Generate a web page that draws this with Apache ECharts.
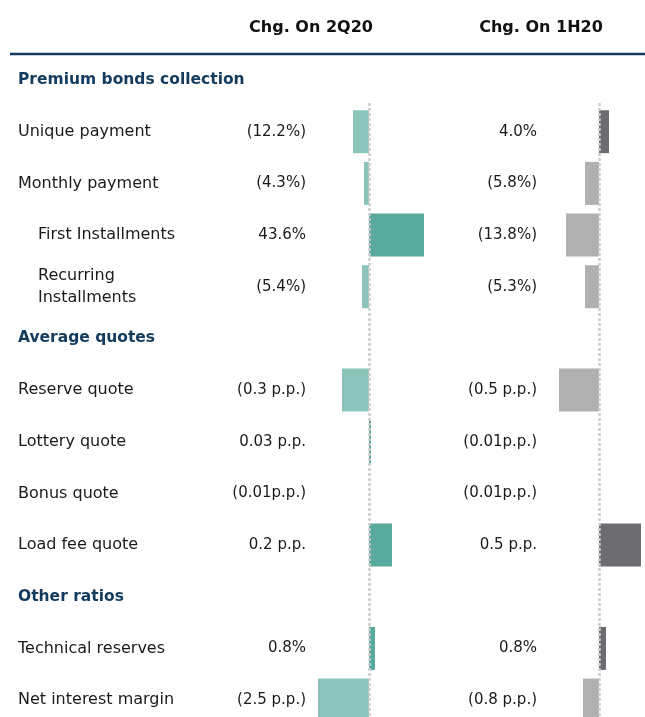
<!DOCTYPE html>
<html>
<head>
<meta charset="utf-8">
<script src="https://cdn.jsdelivr.net/npm/echarts@6/dist/echarts.min.js"></script>
<style>
  html, body { margin: 0; padding: 0; background: #fff; overflow: hidden; }
  /* a bit taller than the window so the last row keeps its full height */
  #chart { width: 645px; height: 740px; }
</style>
</head>
<body>
<div id="chart"></div>
<script>
// rows of the table, top to bottom (section headers have no values)
const rows = [
  'Premium bonds collection',
  'Unique payment',
  'Monthly payment',
  'First Installments',
  'Recurring\nInstallments',
  'Average quotes',
  'Reserve quote',
  'Lottery quote',
  'Bonus quote',
  'Load fee quote',
  'Other ratios',
  'Technical reserves',
  'Net interest margin'
];
const sections = ['Premium bonds collection', 'Average quotes', 'Other ratios'];
const subRows = ['First Installments', 'Recurring\nInstallments'];

const columnTitles = ['Chg. On 2Q20', 'Chg. On 1H20'];

// value texts as printed
const labels2Q20 = ['', '(12.2%)', '(4.3%)', '43.6%', '(5.4%)', '', '(0.3 p.p.)', '0.03 p.p.', '(0.01p.p.)', '0.2 p.p.', '', '0.8%', '(2.5 p.p.)'];
const labels1H20 = ['', '4.0%', '(5.8%)', '(13.8%)', '(5.3%)', '', '(0.5 p.p.)', '(0.01p.p.)', '(0.01p.p.)', '0.5 p.p.', '', '0.8%', '(0.8 p.p.)'];

// bar sizes as drawn (relative index)
const bars2Q20 = [null, -16, -5, 55, -7, null, -27, 2, 0, 23, null, 6, -51];
const bars1H20 = [null, 10, -14, -33, -14, null, -40, 0, 0, 42, null, 7, -16];

const NAVY = '#133b5e';
const BODY_FONT = 'DejaVu Sans';

const chart = echarts.init(document.getElementById('chart'), null, { renderer: 'canvas' });

const rowTop = 54.2;
const rowH = 51.67;

function rowFormatter(v) {
  if (sections.indexOf(v) >= 0) return '{sec|' + v + '}';
  if (subRows.indexOf(v) >= 0) return v.split('\n').map(s => '{sub|' + s + '}').join('\n');
  return '{item|' + v + '}';
}

function catAxis(gridIndex, data, extra) {
  return Object.assign({
    type: 'category',
    gridIndex,
    data,
    inverse: true,
    position: 'left',
    axisLine: { show: false },
    axisTick: { show: false },
    splitLine: { show: false }
  }, extra);
}

function barSeries(idx, data, negColor, posColor) {
  return {
    type: 'bar',
    xAxisIndex: idx,
    yAxisIndex: idx === 0 ? 0 : 2,
    data,
    barWidth: 43,
    silent: true,
    itemStyle: {
      color: p => (p.value < 0 ? negColor : posColor)
    },
    markLine: {
      silent: true,
      symbol: 'none',
      label: { show: false },
      lineStyle: { color: '#cccccc', width: 2.5, type: [3, 2] },
      z: 5,
      data: [[{ xAxis: 0, y: 103 }, { xAxis: 0, y: 740 }]]
    }
  };
}

const option = {
  animation: false,
  backgroundColor: '#fff',
  title: [
    {
      text: columnTitles[0], left: 311, top: 20, padding: 0, textAlign: 'center',
      textStyle: { fontFamily: 'DejaVu Sans', fontWeight: 'bold', fontSize: 16, color: '#111' }
    },
    {
      text: columnTitles[1], left: 541, top: 20, padding: 0, textAlign: 'center',
      textStyle: { fontFamily: 'DejaVu Sans', fontWeight: 'bold', fontSize: 16, color: '#111' }
    }
  ],
  graphic: [
    {
      type: 'line',
      shape: { x1: 10, y1: 54, x2: 645, y2: 54 },
      style: { stroke: NAVY, lineWidth: 2.5 }
    }
  ],
  grid: [
    { left: 310, width: 120, top: rowTop, height: rowH * rows.length },
    { left: 541, width: 104, top: rowTop, height: rowH * rows.length }
  ],
  xAxis: [
    { type: 'value', gridIndex: 0, min: -59, max: 61, show: false },
    { type: 'value', gridIndex: 1, min: -58, max: 46, show: false }
  ],
  yAxis: [
    catAxis(0, rows, {
      axisLabel: {
        align: 'left',
        margin: 292,
        formatter: rowFormatter,
        rich: {
          sec: { fontFamily: 'DejaVu Sans', fontWeight: 'bold', fontSize: 15.5, color: NAVY },
          item: { fontFamily: BODY_FONT, fontSize: 16, color: '#1a1a1a' },
          sub: { fontFamily: BODY_FONT, fontSize: 16, color: '#1a1a1a', padding: [0, 0, 0, 20], lineHeight: 22 }
        }
      }
    }),
    catAxis(0, labels2Q20, {
      axisLabel: { align: 'right', margin: 4, fontFamily: BODY_FONT, fontSize: 15, color: '#1a1a1a' }
    }),
    catAxis(1, rows, { axisLabel: { show: false } }),
    catAxis(1, labels1H20, {
      axisLabel: { align: 'right', margin: 4, fontFamily: BODY_FONT, fontSize: 15, color: '#1a1a1a' }
    })
  ],
  series: [
    barSeries(0, bars2Q20, '#8cc4bc', '#5aa99d'),
    barSeries(1, bars1H20, '#b0b0b0', '#6d6c71')
  ]
};

chart.setOption(option);
</script>
</body>
</html>
